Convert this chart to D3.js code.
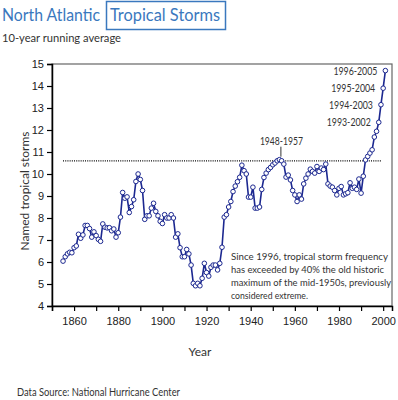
<!DOCTYPE html>
<html>
<head>
<meta charset="utf-8">
<script src="https://cdn.jsdelivr.net/npm/d3@7"></script>
<style>
body { margin: 0; background: #fff; }
text { font-family: Lato, "Open Sans", sans-serif; }
.tick text { font-family: "Liberation Sans", Arial, sans-serif; font-size: 11px; fill: #222; }
</style>
</head>
<body>
<div class="chart"></div>
<script>
// 10-year running average of named tropical storms, one point per year
var firstYear = 1855;
var storms = [
    6.04, 6.24, 6.37, 6.44, 6.42, 6.65, 6.73, 7.26, 7.08, 7.23, // 1855-1864
    7.66, 7.66, 7.52, 7.13, 7.37, 7.20, 7.03, 6.94, 7.73, 7.58, // 1865-1874
    7.55, 7.56, 7.42, 7.50, 7.13, 7.33, 8.04, 9.16, 8.90, 8.96, // 1875-1884
    8.25, 8.52, 8.83, 9.66, 10.0, 9.75, 9.25, 7.94, 8.10, 8.10, // 1885-1894
    8.45, 8.67, 8.30, 8.10, 7.85, 7.75, 8.15, 8.00, 8.00, 8.15, // 1895-1904
    8.00, 7.13, 7.28, 6.65, 6.24, 6.24, 6.57, 6.37, 5.86, 5.03, // 1905-1914
    4.92, 5.03, 4.92, 5.26, 5.94, 5.52, 5.36, 5.76, 5.86, 5.86, // 1915-1924
    5.64, 5.94, 6.67, 8.04, 8.15, 8.50, 8.75, 9.20, 9.45, 9.65, // 1925-1934
    9.85, 10.4, 10.15, 10.0, 8.95, 8.95, 9.40, 8.45, 8.45, 8.50, // 1935-1944
    9.30, 9.84, 10.04, 10.2, 10.3, 10.42, 10.5, 10.6, 10.65, 10.6, // 1945-1954
    10.45, 9.86, 9.95, 9.73, 9.25, 9.05, 8.75, 9.05, 8.86, 9.55, // 1955-1964
    9.81, 10.0, 10.22, 10.12, 10.04, 10.34, 10.12, 10.27, 10.2, 10.45, // 1965-1974
    9.55, 9.45, 9.40, 9.25, 9.05, 9.35, 9.43, 9.05, 9.10, 9.15, // 1975-1984
    9.60, 9.35, 9.40, 9.30, 9.77, 9.13, 9.90, 10.64, 10.8, 10.95, // 1985-1994
    11.1, 11.68, 11.94, 12.35, 13.15, 13.9, 14.7                // 1995-2001
];
var decadeTicks = [1850, 1860, 1870, 1880, 1890, 1900, 1910, 1920, 1930, 1940, 1950, 1960, 1970, 1980, 1990, 2000];
var yearLabels = [1860, 1880, 1900, 1920, 1940, 1960, 1980, 2000];
var stormTicks = [4, 5, 6, 7, 8, 9, 10, 11, 12, 13, 14, 15];
var oldMax = 10.6;
var oldMaxSpan = [1855, 1999];
var peakYear = 1953;
var peakLabel = "1948-1957";
var recentLabels = ["1993-2002", "1994-2003", "1995-2004", "1996-2005"];
var noteLines = [
    "Since 1996, tropical storm frequency",
    "has exceeded by 40% the old historic",
    "maximum of the mid-1950s, previously",
    "considered extreme."
];
var noteWidths = [157, 153, 160, 77];

var data = storms.map(function(v, i) {
    return { year: firstYear + i, value: v };
});

var svgWidth = 398;
var svgHeight = 400;
var margin = { top: 64, right: 6, bottom: 94, left: 52 };
var chartWidth = svgWidth - margin.left - margin.right;
var chartHeight = svgHeight - margin.top - margin.bottom;

var navy = "#1c2890";
var blue = "#3a78be";

// squeeze a text to the width it has in the (narrow-font) original
function fit(sel, w) {
    sel.attr("textLength", w).attr("lengthAdjust", "spacingAndGlyphs");
}

var root = d3.select(".chart")
    .append("svg")
    .attr("width", svgWidth)
    .attr("height", svgHeight);

// title
root.append("text")
    .attr("x", 2).attr("y", 21)
    .attr("font-size", 18)
    .attr("fill", blue)
    .text("North Atlantic")
    .call(fit, 98);
root.append("rect")
    .attr("x", 106.5).attr("y", 1.5)
    .attr("width", 119).attr("height", 28)
    .attr("fill", "none")
    .attr("stroke", blue)
    .attr("stroke-width", 1.5);
root.append("text")
    .attr("x", 110).attr("y", 21)
    .attr("font-size", 18)
    .attr("fill", blue)
    .text("Tropical Storms")
    .call(fit, 110);
root.append("text")
    .attr("x", 2).attr("y", 42)
    .attr("font-size", 12)
    .attr("fill", "#333")
    .text("10-year running average")
    .call(fit, 119);

var chart = root.append("g")
    .attr("transform", "translate(" + margin.left + "," + margin.top + ")");

var xScale = d3.scaleLinear().domain([1850, 2004]).range([0, chartWidth]);
var yScale = d3.scaleLinear().domain([4, 15]).range([chartHeight, 0]);

// frame
chart.append("rect")
    .attr("width", chartWidth).attr("height", chartHeight)
    .attr("fill", "none")
    .attr("stroke", "#666")
    .attr("stroke-width", 1.2);

var bottomAxis = d3.axisBottom(xScale)
    .tickValues(decadeTicks)
    .tickSizeOuter(0)
    .tickSize(5)
    .tickPadding(6)
    .tickFormat(function(d) { return yearLabels.indexOf(d) >= 0 ? d : ""; });
var leftAxis = d3.axisLeft(yScale)
    .tickValues(stormTicks)
    .tickSizeOuter(0)
    .tickSize(5)
    .tickPadding(3);

var xg = chart.append("g")
    .attr("transform", "translate(0," + chartHeight + ")")
    .call(bottomAxis);
var yg = chart.append("g").call(leftAxis);
[xg, yg].forEach(function(g) {
    g.select(".domain").attr("stroke", "#000").attr("stroke-width", 1.5);
    g.selectAll(".tick line").attr("stroke", "#000").attr("stroke-width", 1.2);
});

// old historic maximum
chart.append("line")
    .attr("x1", xScale(oldMaxSpan[0])).attr("x2", xScale(oldMaxSpan[1]))
    .attr("y1", yScale(oldMax)).attr("y2", yScale(oldMax))
    .attr("stroke", "#000")
    .attr("stroke-width", 1.3)
    .attr("stroke-dasharray", "1,1.2");

var line = d3.line()
    .x(function(d) { return xScale(d.year); })
    .y(function(d) { return yScale(d.value); });

chart.append("path")
    .datum(data)
    .attr("d", line)
    .attr("fill", "none")
    .attr("stroke", navy)
    .attr("stroke-width", 1.6);

chart.selectAll("circle")
    .data(data)
    .enter()
    .append("circle")
    .attr("cx", function(d) { return xScale(d.year); })
    .attr("cy", function(d) { return yScale(d.value); })
    .attr("r", 2.3)
    .attr("fill", "#fff")
    .attr("stroke", navy)
    .attr("stroke-width", 1);

// period labels for the last four points
var lastFour = data.slice(-4);
chart.selectAll(".period")
    .data(lastFour)
    .enter()
    .append("text")
    .attr("class", "period")
    .attr("x", function(d) { return xScale(d.year) - 52; })
    .attr("y", function(d) { return yScale(d.value) + 4; })
    .attr("font-size", 11)
    .attr("fill", "#333")
    .text(function(d, i) { return recentLabels[i]; })
    .call(fit, 44);

var peak = data.filter(function(d) { return d.year === peakYear; })[0];
chart.append("line")
    .attr("x1", xScale(peak.year) + 1.5).attr("x2", xScale(peak.year) + 1.5)
    .attr("y1", yScale(peak.value) - 13).attr("y2", yScale(peak.value) - 3)
    .attr("stroke", "#333");
chart.append("text")
    .attr("x", xScale(peak.year) + 2 - 21.5)
    .attr("y", yScale(peak.value) - 15)
    .attr("font-size", 11)
    .attr("fill", "#333")
    .text(peakLabel)
    .call(fit, 43);

// note
chart.selectAll(".note")
    .data(noteLines)
    .enter()
    .append("text")
    .attr("class", "note")
    .attr("x", 179)
    .attr("y", function(d, i) { return 196 + i * 13; })
    .attr("font-size", 9.5)
    .attr("fill", "#333")
    .text(function(d) { return d; })
    .each(function(d, i) { d3.select(this).call(fit, noteWidths[i]); });

// axis titles
root.append("text")
    .attr("transform", "translate(29,191) rotate(-90)")
    .attr("text-anchor", "middle")
    .attr("font-size", 12)
    .attr("fill", "#333")
    .text("Named tropical storms");
root.append("text")
    .attr("x", 200).attr("y", 356)
    .attr("text-anchor", "middle")
    .attr("font-size", 12)
    .attr("fill", "#333")
    .text("Year");
root.append("text")
    .attr("x", 17).attr("y", 396)
    .attr("font-size", 10.5)
    .attr("fill", "#333")
    .text("Data Source: National Hurricane Center")
    .call(fit, 163);
</script>
</body>
</html>
